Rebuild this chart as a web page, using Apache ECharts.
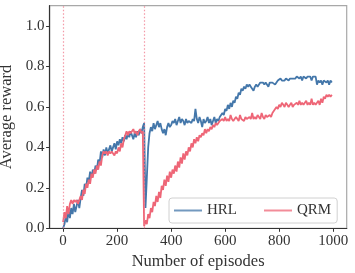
<!DOCTYPE html>
<html><head><meta charset="utf-8">
<script src="https://cdn.jsdelivr.net/npm/echarts@6/dist/echarts.min.js"></script>
<style>html,body{margin:0;padding:0;background:#fff}#c{width:355px;height:273px}</style>
</head><body><div id="c"></div>
<script>
// episode step between samples
const STEP = 5;
const hrl = [
 0.00,0.02,0.06,0.03,0.09,0.05,
 0.10,0.07,0.12,0.08,0.11,0.14,0.10,
 0.15,0.19,0.16,0.22,0.20,0.25,0.23,0.28,0.25,0.29,
 0.27,0.31,0.29,0.34,0.32,0.38,0.35,0.39,
 0.36,0.40,0.37,0.39,0.41,0.38,0.40,0.42,0.39,0.43,0.41,0.44,
 0.42,0.45,0.43,0.46,0.44,0.47,0.45,0.48,0.46,0.44,0.47,0.45,0.48,0.46,0.49,0.47,0.50,
 0.52,
 0.10,
 0.25,0.40,0.47,
 0.50,0.48,0.52,0.49,0.51,0.53,0.50,0.52,0.49,
 0.47,0.49,0.46,0.50,0.52,0.50,
 0.51,0.53,0.52,0.54,0.51,0.53,0.55,0.52,0.54,0.53,0.51,0.54,0.52,0.53,0.53,0.52,0.54,0.53,0.59,0.54,0.52,0.55,0.53,0.50,0.54,0.52,0.53,0.55,0.52,0.54,0.51,0.53,0.55,0.52,0.54,0.53,0.55,
 0.55,0.57,0.56,0.59,0.58,0.61,0.59,0.62,0.60,0.63,0.62,0.65,0.64,0.67,0.66,0.69,0.68,0.70,0.69,0.71,
 0.70,0.71,0.70,0.70,0.68,0.70,0.71,0.70,0.70,0.72,0.72,0.72,0.71,0.72,0.72,0.70,0.72,0.72,0.72,0.72,0.71,0.72,
 0.73,0.73,0.74,0.73,0.73,0.73,0.74,0.74,0.73,0.74,0.74,0.74,0.74,
 0.74,0.75,0.75,0.74,0.75,0.73,0.75,0.75,0.74,0.75,0.75,0.75,0.73,0.75,0.75,0.75,
 0.71,0.73,0.72,0.73,0.71,0.73,0.73,0.72,0.73,0.71,0.73,0.72
];
const qrm = [
 0.03,0.08,0.05,0.11,0.07,0.12,
 0.14,0.12,0.14,0.13,0.14,0.12,0.14,
 0.16,0.14,0.19,0.17,0.22,0.20,0.24,0.22,0.27,0.25,
 0.29,0.27,0.31,0.29,0.33,0.31,0.36,0.38,
 0.37,0.38,0.36,0.38,0.37,0.38,0.38,0.36,0.38,0.37,0.40,0.38,
 0.42,0.40,0.44,0.46,0.48,0.46,0.48,0.47,0.48,0.49,0.47,0.48,0.46,0.48,0.49,0.47,0.48,
 0.01,
 0.04,
 0.02,0.07,0.05,
 0.10,0.08,0.13,0.11,0.16,0.13,0.18,0.15,0.21,
 0.19,0.24,0.21,0.26,0.23,0.28,
 0.25,0.29,0.27,0.31,0.28,0.33,0.30,0.35,0.32,0.37,0.34,0.38,0.36,0.40,0.38,0.42,0.40,0.44,0.42,0.45,0.43,0.46,0.45,0.47,0.46,0.49,0.47,0.49,0.48,0.50,0.49,0.51,0.50,0.52,0.51,0.52,0.53,
 0.53,0.54,0.53,0.55,0.53,0.54,0.53,0.56,0.54,0.53,0.54,0.55,0.54,0.53,0.56,0.54,0.54,0.53,0.55,0.54,
 0.54,0.55,0.54,0.57,0.54,0.55,0.54,0.56,0.55,0.54,0.57,0.55,0.54,0.56,0.55,0.55,0.56,0.55,0.57,0.58,0.59,0.60,
 0.59,0.61,0.60,0.62,0.61,0.60,0.62,0.61,0.60,0.61,0.62,0.60,0.61,
 0.61,0.62,0.61,0.63,0.61,0.62,0.61,0.61,0.63,0.61,0.62,0.61,0.64,0.61,0.62,0.61,
 0.62,0.63,0.61,0.64,0.62,0.65,0.64,0.66,0.65,0.66,0.65,0.66
];
const xTicks = [0,200,400,600,800,1000];
const yTicks = [0,0.2,0.4,0.6,0.8,1.0];
const vLines = [0,300];
const seriesNames = ['HRL','QRM'];

const toPairs = arr => arr.map((v,i)=>[i*STEP, v]);
const FONT = 'Liberation Serif';
const chart = echarts.init(document.getElementById('c'), null, {renderer:'canvas'});
chart.setOption({
  animation:false,
  grid:{left:49.6, right:8.3, top:5.7, bottom:44.7, containLabel:false, outerBoundsMode:'none',
    show:true, borderColor:'#a8a8a8', borderWidth:1.2, backgroundColor:'transparent'},
  xAxis:{type:'value', min:-50, max:1050,
    name:'Number of episodes', nameLocation:'middle', nameGap:24,
    nameTextStyle:{fontFamily:FONT, fontSize:16.5, color:'#333'},
    axisLine:{show:true, onZero:false, lineStyle:{color:'#333', width:1.2}},
    axisTick:{show:true, length:3.5, lineStyle:{color:'#333'}, customValues:xTicks},
    axisLabel:{fontFamily:FONT, fontSize:15, color:'#333', margin:5, customValues:xTicks, formatter:v=>String(v)},
    splitLine:{show:false}},
  yAxis:{type:'value', min:0, max:1.1,
    name:'Average reward', nameLocation:'middle', nameGap:29,
    nameTextStyle:{fontFamily:FONT, fontSize:16.5, color:'#333'},
    axisLine:{show:true, onZero:false, lineStyle:{color:'#333', width:1.2}},
    axisTick:{show:true, length:3.5, lineStyle:{color:'#333'}, customValues:yTicks},
    axisLabel:{fontFamily:FONT, fontSize:15, color:'#333', margin:5, customValues:yTicks, formatter:v=>v.toFixed(1)},
    splitLine:{show:false}},
  legend:{left:169, top:198, width:171, height:23, padding:[5,6,5,5],
    borderColor:'#d0d0d0', borderWidth:1, borderRadius:3, backgroundColor:'rgba(255,255,255,0.8)',
    itemWidth:28, itemHeight:2, itemGap:27, icon:'rect', itemTextGap:10,
    textStyle:{fontFamily:FONT, fontSize:15, color:'#333'},
    data:[
      {name:seriesNames[0], itemStyle:{color:'rgba(68,119,170,0.75)'}},
      {name:seriesNames[1], itemStyle:{color:'rgba(238,102,119,0.75)'}}
    ]},
  series:[
    {name:seriesNames[0], type:'line', data:toPairs(hrl), showSymbol:false, symbol:'none',
      lineStyle:{color:'#4477AA', width:1.8}, itemStyle:{color:'#4477AA'}},
    {name:seriesNames[1], type:'line', data:toPairs(qrm), showSymbol:false, symbol:'none',
      lineStyle:{color:'#EE6677', width:1.8}, itemStyle:{color:'#EE6677'},
      markLine:{silent:true, symbol:'none', label:{show:false},
        lineStyle:{color:'#F08090', type:[1.5,2], width:1.2, opacity:0.8},
        data:vLines.map(v=>({xAxis:v, lineStyle:{color:'#F08090', type:[1.5,2], width:1.2}}))}}
  ]
});
</script></body></html>
